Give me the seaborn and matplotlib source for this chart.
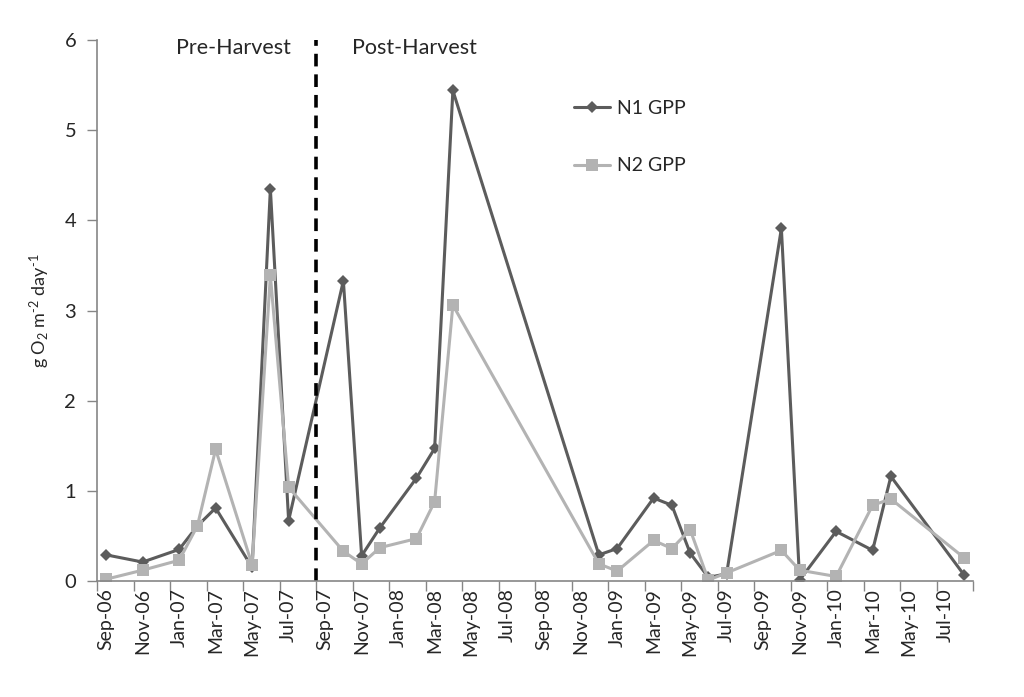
import pandas as pd
import matplotlib.pyplot as plt
import seaborn as sns

# Sampling months and GPP values (g O2 m-2 day-1)
months = ["2006-09", "2006-11", "2007-01", "2007-02", "2007-03", "2007-05",
          "2007-06", "2007-07", "2007-10", "2007-11", "2007-12", "2008-02",
          "2008-03", "2008-04", "2008-12", "2009-01", "2009-03", "2009-04",
          "2009-05", "2009-06", "2009-07", "2009-10", "2009-11", "2010-01",
          "2010-03", "2010-04", "2010-08"]
n1_gpp = [0.29, 0.21, 0.35, 0.61, 0.81, 0.15, 4.35, 0.67, 3.33, 0.28, 0.59,
          1.14, 1.47, 5.44, 0.29, 0.36, 0.92, 0.84, 0.31, 0.04, 0.08, 3.91,
          0.01, 0.55, 0.34, 1.16, 0.07]
n2_gpp = [0.02, 0.12, 0.23, 0.61, 1.46, 0.18, 3.39, 1.04, 0.33, 0.19, 0.37,
          0.47, 0.88, 3.06, 0.19, 0.11, 0.45, 0.36, 0.57, 0.01, 0.09, 0.34,
          0.12, 0.05, 0.84, 0.91, 0.26]

# Axis runs month by month from Sep-06 to Aug-10, labels every 2 months
axis_start = pd.Period("2006-09", freq="M")
n_months = 48
harvest = pd.Period("2007-09", freq="M")

periods = pd.PeriodIndex(months, freq="M")
month_pos = [(p - axis_start).n + 0.5 for p in periods]

df = pd.DataFrame({"pos": month_pos, "N1 GPP": n1_gpp, "N2 GPP": n2_gpp})

sns.set_theme(style="white")
plt.rcParams['font.family'] = ['Lato', 'DejaVu Sans']
plt.rcParams['mathtext.fontset'] = 'custom'
plt.rcParams['mathtext.rm'] = 'Lato'
plt.rcParams['mathtext.it'] = 'Lato'
plt.rcParams['mathtext.default'] = 'regular'

fig = plt.figure(figsize=(10.24, 6.97), dpi=100)
ax = fig.add_axes([97 / 1024, 1 - 581 / 697, 876 / 1024, 541 / 697])

sns.lineplot(data=df, x="pos", y="N1 GPP", ax=ax, color="#5c5c5c", marker="D",
             markersize=6.5, markeredgewidth=0, linewidth=2.2, label="N1 GPP")
sns.lineplot(data=df, x="pos", y="N2 GPP", ax=ax, color="#b3b3b3", marker="s",
             markersize=8.5, markeredgewidth=0, linewidth=2.2, label="N2 GPP")

# harvest divider
hx = (harvest - axis_start).n
ax.plot([hx, hx], [0, 6], color="black", linestyle=(0, (3.5, 2.2)), linewidth=2.6)

ax.text(7.45, 5.91, "Pre-Harvest", ha="center", va="center", fontsize=15.5)
ax.text(17.4, 5.91, "Post-Harvest", ha="center", va="center", fontsize=15.5)

ax.set_xlim(0, n_months)
ax.set_ylim(0, 6)

# tick marks at 2-month boundaries, labels centred on first month of each pair
ax.set_xticks(range(0, n_months + 1, 2))
ax.set_xticklabels([])
label_periods = [axis_start + i for i in range(0, n_months, 2)]
ax.set_xticks([i + 0.5 for i in range(0, n_months, 2)], minor=True)
ax.set_xticklabels([p.strftime("%b-%y") for p in label_periods], minor=True,
                   rotation=90, fontsize=14)
ax.tick_params(axis="x", which="major", direction="out", length=7, width=1,
               color="#868686", bottom=True)
ax.tick_params(axis="x", which="minor", length=0, pad=5, bottom=True)

ax.set_yticks(range(0, 7))
ax.tick_params(axis="y", direction="out", length=7, width=1, color="#868686",
               left=True, labelsize=14.5, pad=8)

for side in ["top", "right"]:
    ax.spines[side].set_visible(False)
for side in ["left", "bottom"]:
    ax.spines[side].set_color("#868686")
    ax.spines[side].set_linewidth(1.2)

ax.set_xlabel("")
ax.set_ylabel("g O$_2$ m$^{\u2010 2}$ day$^{\u2010 1}$", fontsize=13, labelpad=9)

ax.legend(loc="upper left", bbox_to_anchor=(556 / 1024, 1 - 82 / 697),
          bbox_transform=fig.transFigure, frameon=False, fontsize=14,
          labelspacing=2.1, handlelength=1.9, handletextpad=0.35)

fig.savefig("out.png", dpi=100)
